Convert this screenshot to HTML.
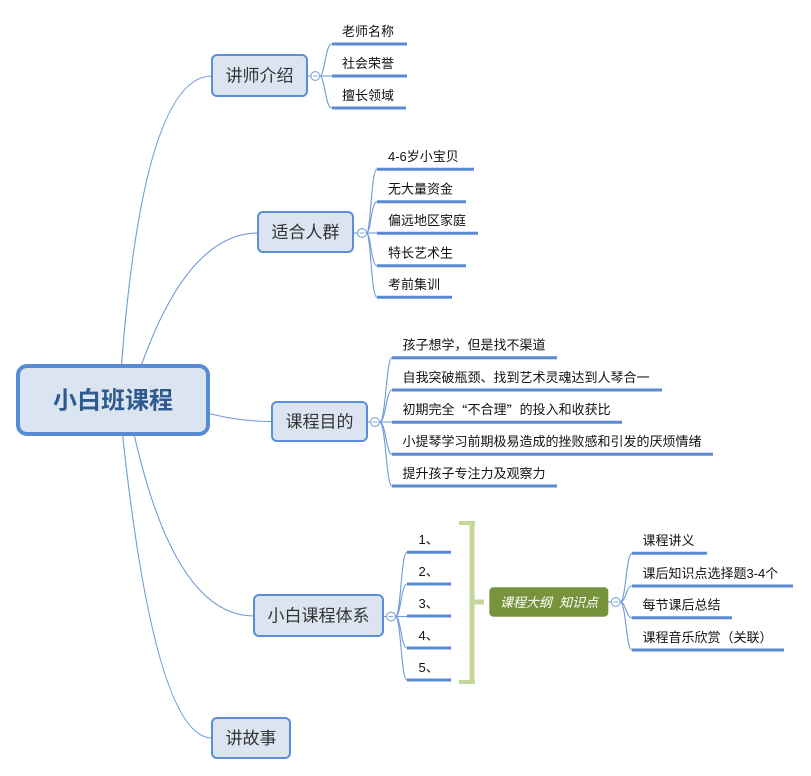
<!DOCTYPE html>
<html>
<head>
<meta charset="utf-8">
<style>
html,body{margin:0;padding:0;background:#fff;}
svg{display:block;}
text{font-family:"Liberation Sans","Noto Sans CJK SC",sans-serif;}
.sub{font-size:13px;fill:#111;}
.main{font-size:17px;fill:#333;}
.cjk{font-family:"Noto Sans CJK SC",sans-serif;}
</style>
</head>
<body>
<svg width="811" height="776" viewBox="0 0 811 776" xmlns="http://www.w3.org/2000/svg">
<!-- root connectors -->
<g fill="none" stroke="#6f9bd8" stroke-width="1.1">
<path d="M119,400 Q140,76 212,76"/>
<path d="M130,400 Q180,233 258,233"/>
<path d="M200,411 Q235,421.5 272,421.5"/>
<path d="M127,400 Q168,616 254,616"/>
<path d="M119,400 Q152,738 212,738"/>
</g>

<!-- root -->
<rect x="18" y="366" width="190" height="68" rx="9" fill="#dbe5f1" stroke="#578bd3" stroke-width="4"/>
<text x="113" y="401" text-anchor="middle" dominant-baseline="central" style="font-size:24px;font-weight:bold;fill:#2f5a8f;">小白班课程</text>

<!-- main boxes -->
<g fill="#dbe5f1" stroke="#5b8ed6" stroke-width="2">
<rect x="212" y="55" width="95" height="41" rx="5"/>
<rect x="258" y="212" width="95" height="40" rx="5"/>
<rect x="272" y="402" width="95" height="39" rx="5"/>
<rect x="254" y="595" width="129" height="41" rx="5"/>
<rect x="212" y="718" width="78" height="40" rx="5"/>
</g>
<text class="main" x="259.5" y="76" text-anchor="middle" dominant-baseline="central">讲师介绍</text>
<text class="main" x="305.5" y="232.5" text-anchor="middle" dominant-baseline="central">适合人群</text>
<text class="main" x="319.5" y="422" text-anchor="middle" dominant-baseline="central">课程目的</text>
<text class="main" x="318.5" y="616" text-anchor="middle" dominant-baseline="central">小白课程体系</text>
<text class="main" x="251" y="738.5" text-anchor="middle" dominant-baseline="central">讲故事</text>

<!-- sub connectors -->
<g fill="none" stroke="#6f9bd8" stroke-width="1.1">
<path d="M308,76 L311,76"/>
<path d="M319.8,76 C325,76 325,44 332,44"/>
<path d="M319.8,76 L332,76"/>
<path d="M319.8,76 C325,76 325,108 332,108"/>
<path d="M354,233 L357.5,233"/>
<path d="M366.5,233 C371,233 371,169.3 377,169.3"/>
<path d="M366.5,233 C371,233 371,201.7 377,201.7"/>
<path d="M366.5,233 L377,233"/>
<path d="M366.5,233 C371,233 371,265.7 377,265.7"/>
<path d="M366.5,233 C371,233 371,297.3 377,297.3"/>
<path d="M368,422 L370.5,422"/>
<path d="M379.5,422 C386,422 386,357.7 392,357.7"/>
<path d="M379.5,422 C386,422 386,390 392,390"/>
<path d="M379.5,422 L392,422"/>
<path d="M379.5,422 C386,422 386,454.3 392,454.3"/>
<path d="M379.5,422 C386,422 386,486 392,486"/>
<path d="M384,616.5 L386.5,616.5"/>
<path d="M395.5,616.5 C401,616.5 401,552.3 407,552.3"/>
<path d="M395.5,616.5 C401,616.5 401,584 407,584"/>
<path d="M395.5,616.5 L407,616.5"/>
<path d="M395.5,616.5 C401,616.5 401,648 407,648"/>
<path d="M395.5,616.5 C401,616.5 401,680 407,680"/>
<path d="M608,602 L611.2,602"/>
<path d="M620.2,602 C626,602 626,553.3 632,553.3"/>
<path d="M620.2,602 C626,602 626,586 632,586"/>
<path d="M620.2,602 C626,602 626,617.7 632,617.7"/>
<path d="M620.2,602 C626,602 626,650 632,650"/>
</g>

<!-- underlines -->
<g stroke="#5a8bd2" stroke-width="3" fill="none">
<line x1="332" y1="44" x2="407" y2="44"/>
<line x1="332" y1="76" x2="407" y2="76"/>
<line x1="332" y1="108" x2="406" y2="108"/>

<line x1="377" y1="169.3" x2="474" y2="169.3"/>
<line x1="377" y1="201.7" x2="466" y2="201.7"/>
<line x1="377" y1="233.3" x2="478" y2="233.3"/>
<line x1="377" y1="265.7" x2="466" y2="265.7"/>
<line x1="377" y1="297.3" x2="452" y2="297.3"/>

<line x1="392" y1="357.7" x2="557" y2="357.7"/>
<line x1="392" y1="390" x2="662" y2="390"/>
<line x1="392" y1="422.3" x2="622" y2="422.3"/>
<line x1="392" y1="454.3" x2="713" y2="454.3"/>
<line x1="392" y1="486" x2="557" y2="486"/>

<line x1="407" y1="552.3" x2="451" y2="552.3"/>
<line x1="407" y1="584" x2="451" y2="584"/>
<line x1="407" y1="616" x2="451" y2="616"/>
<line x1="407" y1="648" x2="451" y2="648"/>
<line x1="407" y1="680" x2="451" y2="680"/>

<line x1="632" y1="553.3" x2="707" y2="553.3"/>
<line x1="632" y1="586" x2="793" y2="586"/>
<line x1="632" y1="617.7" x2="732" y2="617.7"/>
<line x1="632" y1="650" x2="784" y2="650"/>
</g>

<!-- collapse circles -->
<g fill="#fff" stroke="#7ba1d8" stroke-width="1.1">
<circle cx="315.3" cy="76" r="4.4"/>
<circle cx="362" cy="233" r="4.4"/>
<circle cx="375" cy="422" r="4.4"/>
<circle cx="391" cy="616.5" r="4.4"/>
<circle cx="615.7" cy="602" r="4.4"/>
</g>
<g stroke="#7ba1d8" stroke-width="1">
<line x1="313" y1="76" x2="317.6" y2="76"/>
<line x1="359.7" y1="233" x2="364.3" y2="233"/>
<line x1="372.7" y1="422" x2="377.3" y2="422"/>
<line x1="388.7" y1="616.5" x2="393.3" y2="616.5"/>
<line x1="613.4" y1="602" x2="618" y2="602"/>
</g>

<!-- sub texts -->
<text class="sub" x="342" y="31.3" dominant-baseline="central">老师名称</text>
<text class="sub" x="342" y="63.3" dominant-baseline="central">社会荣誉</text>
<text class="sub" x="342" y="95.3" dominant-baseline="central">擅长领域</text>

<text class="sub" x="388" y="156.6" dominant-baseline="central">4-6岁小宝贝</text>
<text class="sub" x="388" y="189" dominant-baseline="central">无大量资金</text>
<text class="sub" x="388" y="220.6" dominant-baseline="central">偏远地区家庭</text>
<text class="sub" x="388" y="253" dominant-baseline="central">特长艺术生</text>
<text class="sub" x="388" y="284.6" dominant-baseline="central">考前集训</text>

<text class="sub" x="402.5" y="345" dominant-baseline="central">孩子想学，但是找不渠道</text>
<text class="sub" x="402.5" y="377.3" dominant-baseline="central">自我突破瓶颈、找到艺术灵魂达到人琴合一</text>
<text class="sub" x="402.5" y="409.6" dominant-baseline="central">初期完全<tspan class="cjk">“</tspan>不合理<tspan class="cjk">”</tspan>的投入和收获比</text>
<text class="sub" x="402.5" y="441.6" dominant-baseline="central">小提琴学习前期极易造成的挫败感和引发的厌烦情绪</text>
<text class="sub" x="402.5" y="473.3" dominant-baseline="central">提升孩子专注力及观察力</text>

<text class="sub" x="418.5" y="539.6" dominant-baseline="central">1、</text>
<text class="sub" x="418.5" y="571.3" dominant-baseline="central">2、</text>
<text class="sub" x="418.5" y="603.3" dominant-baseline="central">3、</text>
<text class="sub" x="418.5" y="635.3" dominant-baseline="central">4、</text>
<text class="sub" x="418.5" y="667.3" dominant-baseline="central">5、</text>

<text class="sub" x="642.5" y="540.6" dominant-baseline="central">课程讲义</text>
<text class="sub" x="642.5" y="573.3" dominant-baseline="central">课后知识点选择题3-4个</text>
<text class="sub" x="642.5" y="605" dominant-baseline="central">每节课后总结</text>
<text class="sub" x="642.5" y="637.3" dominant-baseline="central">课程音乐欣赏（关联）</text>

<!-- summary bracket -->
<g fill="#c4d69c">
<rect x="459" y="521" width="16" height="4"/>
<rect x="469.5" y="521" width="5" height="163"/>
<rect x="459" y="680" width="16" height="4"/>
<rect x="474" y="599.5" width="10" height="5"/>
</g>
<rect x="489.3" y="587.3" width="119" height="29.4" rx="4" fill="#77933c"/>
<text x="549" y="602.5" text-anchor="middle" dominant-baseline="central" style="font-size:13px;font-style:italic;fill:#fff;">课程大纲&#160;&#160;知识点</text>
</svg>
</body>
</html>
